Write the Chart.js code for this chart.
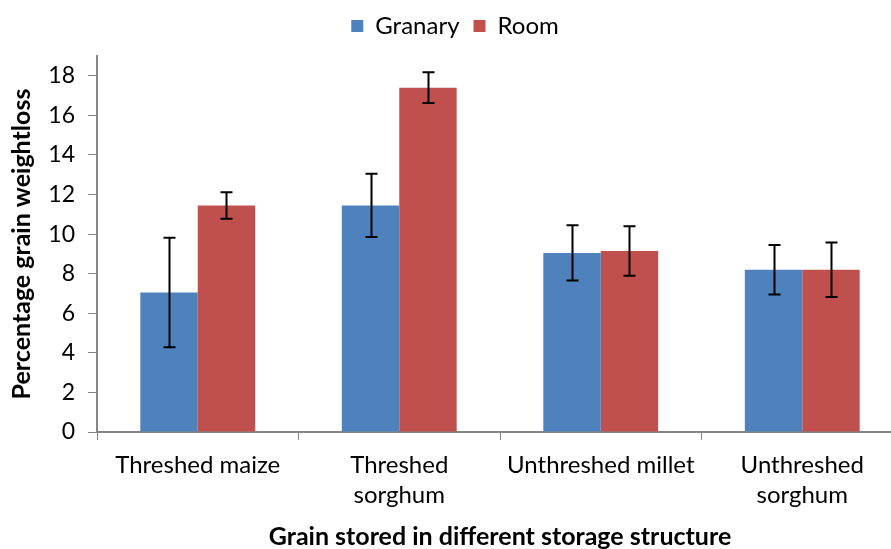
<!DOCTYPE html>
<html lang="en">
<head>
    <meta charset="UTF-8">
    <title>Grain weight loss</title>
    <script src="https://cdn.jsdelivr.net/npm/chart.js"></script>
    <style>
        html, body {
            margin: 0;
            padding: 0;
            background: #ffffff;
            overflow: hidden;
        }
        #wrap {
            width: 910px;
            height: 549px;
        }
    </style>
</head>
<body>
    <div id="wrap">
        <canvas id="lossChart"></canvas>
    </div>

    <script>
        // categories and series
        const categories = ['Threshed maize', ['Threshed', 'sorghum'], 'Unthreshed millet', ['Unthreshed', 'sorghum']];
        const granary = [7.05, 11.45, 9.05, 8.2];
        const room = [11.45, 17.4, 9.15, 8.2];
        // error bar half-lengths
        const granaryErr = [2.77, 1.6, 1.4, 1.25];
        const roomErr = [0.67, 0.78, 1.25, 1.38];
        const yTicks = [0, 2, 4, 6, 8, 10, 12, 14, 16, 18];

        const fontFamily = 'Lato, "Open Sans", sans-serif';
        const axisGrey = '#868686';

        // draws the black whiskers on top of each bar
        const errorBars = {
            id: 'errorBars',
            afterDatasetsDraw(chart) {
                const ctx = chart.ctx;
                const yScale = chart.scales.y;
                ctx.save();
                ctx.strokeStyle = '#000000';
                ctx.lineWidth = 2;
                chart.data.datasets.forEach((ds, i) => {
                    const meta = chart.getDatasetMeta(i);
                    meta.data.forEach((bar, j) => {
                        const v = ds.data[j];
                        const e = ds.errors[j];
                        const top = yScale.getPixelForValue(v + e);
                        const bot = yScale.getPixelForValue(v - e);
                        const x = Math.round(bar.x) + 0.5;
                        ctx.beginPath();
                        ctx.moveTo(x, top);
                        ctx.lineTo(x, bot);
                        ctx.moveTo(x - 6, top);
                        ctx.lineTo(x + 6, top);
                        ctx.moveTo(x - 6, bot);
                        ctx.lineTo(x + 6, bot);
                        ctx.stroke();
                    });
                });
                ctx.restore();
            }
        };

        // extra space between the legend and the plot
        const legendGap = {
            id: 'legendGap',
            beforeInit(chart) {
                const fit = chart.legend.fit;
                chart.legend.fit = function () {
                    fit.call(this);
                    this.height += 8;
                };
            }
        };

        const ctx = document.getElementById('lossChart').getContext('2d');
        new Chart(ctx, {
            type: 'bar',
            data: {
                labels: categories,
                datasets: [
                    {
                        label: 'Granary',
                        data: granary,
                        errors: granaryErr,
                        backgroundColor: '#4F81BD',
                        categoryPercentage: 0.57,
                        barPercentage: 1.0
                    },
                    {
                        label: 'Room',
                        data: room,
                        errors: roomErr,
                        backgroundColor: '#C0504D',
                        categoryPercentage: 0.57,
                        barPercentage: 1.0
                    }
                ]
            },
            options: {
                responsive: true,
                maintainAspectRatio: false,
                animation: false,
                layout: {
                    padding: { top: 0, left: 7, right: 7, bottom: 0 }
                },
                plugins: {
                    legend: {
                        position: 'top',
                        labels: {
                            boxWidth: 12,
                            boxHeight: 12,
                            padding: 14,
                            color: '#000000',
                            font: { family: fontFamily, size: 24 }
                        }
                    },
                    tooltip: { enabled: false }
                },
                scales: {
                    x: {
                        afterFit(scale) {
                            scale.height = 117;
                        },
                        grid: {
                            offset: true,
                            drawOnChartArea: false,
                            drawTicks: true,
                            tickLength: 8,
                            color: axisGrey
                        },
                        border: { color: axisGrey, width: 2 },
                        ticks: {
                            color: '#000000',
                            maxRotation: 0,
                            padding: 10,
                            font: { family: fontFamily, size: 24, lineHeight: 1.25 }
                        },
                        title: {
                            display: true,
                            text: 'Grain stored in different storage structure',
                            color: '#000000',
                            padding: { top: 0, bottom: 0 },
                            font: { family: fontFamily, size: 25, weight: 'bold', lineHeight: 1.0 }
                        }
                    },
                    y: {
                        min: 0,
                        max: 19,
                        afterBuildTicks(scale) {
                            scale.ticks = yTicks.map(v => ({ value: v }));
                        },
                        afterFit(scale) {
                            scale.width = 90;
                        },
                        grid: {
                            drawOnChartArea: false,
                            drawTicks: true,
                            tickLength: 9,
                            color: axisGrey
                        },
                        border: { color: axisGrey, width: 2 },
                        ticks: {
                            color: '#000000',
                            padding: 13,
                            font: { family: fontFamily, size: 23 }
                        },
                        title: {
                            display: true,
                            text: 'Percentage grain weightloss',
                            color: '#000000',
                            padding: { top: 0, bottom: 0 },
                            font: { family: fontFamily, size: 25, weight: 'bold', lineHeight: 1.2 }
                        }
                    }
                }
            },
            plugins: [errorBars, legendGap]
        });
    </script>
</body>
</html>
